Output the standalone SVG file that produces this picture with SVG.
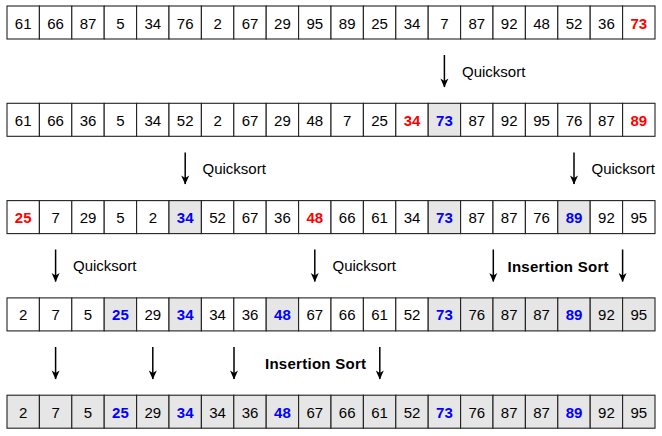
<svg xmlns="http://www.w3.org/2000/svg" width="662" height="436" viewBox="0 0 662 436">
<style>
.c{fill:#fff;stroke:#222;stroke-width:1.1}
.g{fill:#e6e6e6;stroke:#222;stroke-width:1.1}
text{font-family:"Liberation Sans",Arial,sans-serif;font-size:15px;fill:#000}
.n{text-anchor:middle}
.r{fill:#ff0000;font-weight:bold}
.b{fill:#0000ff;font-weight:bold}
.lb{font-weight:bold}
.a{stroke:#000;stroke-width:1.5;fill:none;marker-end:url(#ah)}
</style>
<defs>
<marker id="ah" markerUnits="userSpaceOnUse" viewBox="-10 -5 11 10" refX="0" refY="0" markerWidth="11" markerHeight="10" orient="auto">
<path d="M0.5,0 L-8.5,-4 L-6,0 L-8.5,4 Z" fill="#000"/>
</marker>
</defs>
<g id="row1">
<rect class="c" x="7" y="6" width="32.4" height="33"/><text class="n" x="23.2" y="28.5">61</text>
<rect class="c" x="39.4" y="6" width="32.4" height="33"/><text class="n" x="55.6" y="28.5">66</text>
<rect class="c" x="71.8" y="6" width="32.4" height="33"/><text class="n" x="88" y="28.5">87</text>
<rect class="c" x="104.2" y="6" width="32.4" height="33"/><text class="n" x="120.4" y="28.5">5</text>
<rect class="c" x="136.6" y="6" width="32.4" height="33"/><text class="n" x="152.8" y="28.5">34</text>
<rect class="c" x="169" y="6" width="32.4" height="33"/><text class="n" x="185.2" y="28.5">76</text>
<rect class="c" x="201.4" y="6" width="32.4" height="33"/><text class="n" x="217.6" y="28.5">2</text>
<rect class="c" x="233.8" y="6" width="32.4" height="33"/><text class="n" x="250" y="28.5">67</text>
<rect class="c" x="266.2" y="6" width="32.4" height="33"/><text class="n" x="282.4" y="28.5">29</text>
<rect class="c" x="298.6" y="6" width="32.4" height="33"/><text class="n" x="314.8" y="28.5">95</text>
<rect class="c" x="331" y="6" width="32.4" height="33"/><text class="n" x="347.2" y="28.5">89</text>
<rect class="c" x="363.4" y="6" width="32.4" height="33"/><text class="n" x="379.6" y="28.5">25</text>
<rect class="c" x="395.8" y="6" width="32.4" height="33"/><text class="n" x="412" y="28.5">34</text>
<rect class="c" x="428.2" y="6" width="32.4" height="33"/><text class="n" x="444.4" y="28.5">7</text>
<rect class="c" x="460.6" y="6" width="32.4" height="33"/><text class="n" x="476.8" y="28.5">87</text>
<rect class="c" x="493" y="6" width="32.4" height="33"/><text class="n" x="509.2" y="28.5">92</text>
<rect class="c" x="525.4" y="6" width="32.4" height="33"/><text class="n" x="541.6" y="28.5">48</text>
<rect class="c" x="557.8" y="6" width="32.4" height="33"/><text class="n" x="574" y="28.5">52</text>
<rect class="c" x="590.2" y="6" width="32.4" height="33"/><text class="n" x="606.4" y="28.5">36</text>
<rect class="c" x="622.6" y="6" width="32.4" height="33"/><text class="n r" x="638.8" y="28.5">73</text>
</g>
<g id="row2">
<rect class="c" x="7" y="103.3" width="32.4" height="33"/><text class="n" x="23.2" y="125.8">61</text>
<rect class="c" x="39.4" y="103.3" width="32.4" height="33"/><text class="n" x="55.6" y="125.8">66</text>
<rect class="c" x="71.8" y="103.3" width="32.4" height="33"/><text class="n" x="88" y="125.8">36</text>
<rect class="c" x="104.2" y="103.3" width="32.4" height="33"/><text class="n" x="120.4" y="125.8">5</text>
<rect class="c" x="136.6" y="103.3" width="32.4" height="33"/><text class="n" x="152.8" y="125.8">34</text>
<rect class="c" x="169" y="103.3" width="32.4" height="33"/><text class="n" x="185.2" y="125.8">52</text>
<rect class="c" x="201.4" y="103.3" width="32.4" height="33"/><text class="n" x="217.6" y="125.8">2</text>
<rect class="c" x="233.8" y="103.3" width="32.4" height="33"/><text class="n" x="250" y="125.8">67</text>
<rect class="c" x="266.2" y="103.3" width="32.4" height="33"/><text class="n" x="282.4" y="125.8">29</text>
<rect class="c" x="298.6" y="103.3" width="32.4" height="33"/><text class="n" x="314.8" y="125.8">48</text>
<rect class="c" x="331" y="103.3" width="32.4" height="33"/><text class="n" x="347.2" y="125.8">7</text>
<rect class="c" x="363.4" y="103.3" width="32.4" height="33"/><text class="n" x="379.6" y="125.8">25</text>
<rect class="c" x="395.8" y="103.3" width="32.4" height="33"/><text class="n r" x="412" y="125.8">34</text>
<rect class="g" x="428.2" y="103.3" width="32.4" height="33"/><text class="n b" x="444.4" y="125.8">73</text>
<rect class="c" x="460.6" y="103.3" width="32.4" height="33"/><text class="n" x="476.8" y="125.8">87</text>
<rect class="c" x="493" y="103.3" width="32.4" height="33"/><text class="n" x="509.2" y="125.8">92</text>
<rect class="c" x="525.4" y="103.3" width="32.4" height="33"/><text class="n" x="541.6" y="125.8">95</text>
<rect class="c" x="557.8" y="103.3" width="32.4" height="33"/><text class="n" x="574" y="125.8">76</text>
<rect class="c" x="590.2" y="103.3" width="32.4" height="33"/><text class="n" x="606.4" y="125.8">87</text>
<rect class="c" x="622.6" y="103.3" width="32.4" height="33"/><text class="n r" x="638.8" y="125.8">89</text>
</g>
<g id="row3">
<rect class="c" x="7" y="200.6" width="32.4" height="33"/><text class="n r" x="23.2" y="223.1">25</text>
<rect class="c" x="39.4" y="200.6" width="32.4" height="33"/><text class="n" x="55.6" y="223.1">7</text>
<rect class="c" x="71.8" y="200.6" width="32.4" height="33"/><text class="n" x="88" y="223.1">29</text>
<rect class="c" x="104.2" y="200.6" width="32.4" height="33"/><text class="n" x="120.4" y="223.1">5</text>
<rect class="c" x="136.6" y="200.6" width="32.4" height="33"/><text class="n" x="152.8" y="223.1">2</text>
<rect class="g" x="169" y="200.6" width="32.4" height="33"/><text class="n b" x="185.2" y="223.1">34</text>
<rect class="c" x="201.4" y="200.6" width="32.4" height="33"/><text class="n" x="217.6" y="223.1">52</text>
<rect class="c" x="233.8" y="200.6" width="32.4" height="33"/><text class="n" x="250" y="223.1">67</text>
<rect class="c" x="266.2" y="200.6" width="32.4" height="33"/><text class="n" x="282.4" y="223.1">36</text>
<rect class="c" x="298.6" y="200.6" width="32.4" height="33"/><text class="n r" x="314.8" y="223.1">48</text>
<rect class="c" x="331" y="200.6" width="32.4" height="33"/><text class="n" x="347.2" y="223.1">66</text>
<rect class="c" x="363.4" y="200.6" width="32.4" height="33"/><text class="n" x="379.6" y="223.1">61</text>
<rect class="c" x="395.8" y="200.6" width="32.4" height="33"/><text class="n" x="412" y="223.1">34</text>
<rect class="g" x="428.2" y="200.6" width="32.4" height="33"/><text class="n b" x="444.4" y="223.1">73</text>
<rect class="c" x="460.6" y="200.6" width="32.4" height="33"/><text class="n" x="476.8" y="223.1">87</text>
<rect class="c" x="493" y="200.6" width="32.4" height="33"/><text class="n" x="509.2" y="223.1">87</text>
<rect class="c" x="525.4" y="200.6" width="32.4" height="33"/><text class="n" x="541.6" y="223.1">76</text>
<rect class="g" x="557.8" y="200.6" width="32.4" height="33"/><text class="n b" x="574" y="223.1">89</text>
<rect class="c" x="590.2" y="200.6" width="32.4" height="33"/><text class="n" x="606.4" y="223.1">92</text>
<rect class="c" x="622.6" y="200.6" width="32.4" height="33"/><text class="n" x="638.8" y="223.1">95</text>
</g>
<g id="row4">
<rect class="c" x="7" y="297.9" width="32.4" height="33"/><text class="n" x="23.2" y="320.4">2</text>
<rect class="c" x="39.4" y="297.9" width="32.4" height="33"/><text class="n" x="55.6" y="320.4">7</text>
<rect class="c" x="71.8" y="297.9" width="32.4" height="33"/><text class="n" x="88" y="320.4">5</text>
<rect class="g" x="104.2" y="297.9" width="32.4" height="33"/><text class="n b" x="120.4" y="320.4">25</text>
<rect class="c" x="136.6" y="297.9" width="32.4" height="33"/><text class="n" x="152.8" y="320.4">29</text>
<rect class="g" x="169" y="297.9" width="32.4" height="33"/><text class="n b" x="185.2" y="320.4">34</text>
<rect class="c" x="201.4" y="297.9" width="32.4" height="33"/><text class="n" x="217.6" y="320.4">34</text>
<rect class="c" x="233.8" y="297.9" width="32.4" height="33"/><text class="n" x="250" y="320.4">36</text>
<rect class="g" x="266.2" y="297.9" width="32.4" height="33"/><text class="n b" x="282.4" y="320.4">48</text>
<rect class="c" x="298.6" y="297.9" width="32.4" height="33"/><text class="n" x="314.8" y="320.4">67</text>
<rect class="c" x="331" y="297.9" width="32.4" height="33"/><text class="n" x="347.2" y="320.4">66</text>
<rect class="c" x="363.4" y="297.9" width="32.4" height="33"/><text class="n" x="379.6" y="320.4">61</text>
<rect class="c" x="395.8" y="297.9" width="32.4" height="33"/><text class="n" x="412" y="320.4">52</text>
<rect class="g" x="428.2" y="297.9" width="32.4" height="33"/><text class="n b" x="444.4" y="320.4">73</text>
<rect class="g" x="460.6" y="297.9" width="32.4" height="33"/><text class="n" x="476.8" y="320.4">76</text>
<rect class="g" x="493" y="297.9" width="32.4" height="33"/><text class="n" x="509.2" y="320.4">87</text>
<rect class="g" x="525.4" y="297.9" width="32.4" height="33"/><text class="n" x="541.6" y="320.4">87</text>
<rect class="g" x="557.8" y="297.9" width="32.4" height="33"/><text class="n b" x="574" y="320.4">89</text>
<rect class="g" x="590.2" y="297.9" width="32.4" height="33"/><text class="n" x="606.4" y="320.4">92</text>
<rect class="g" x="622.6" y="297.9" width="32.4" height="33"/><text class="n" x="638.8" y="320.4">95</text>
</g>
<g id="row5">
<rect class="g" x="7" y="395.2" width="32.4" height="33"/><text class="n" x="23.2" y="417.7">2</text>
<rect class="g" x="39.4" y="395.2" width="32.4" height="33"/><text class="n" x="55.6" y="417.7">7</text>
<rect class="g" x="71.8" y="395.2" width="32.4" height="33"/><text class="n" x="88" y="417.7">5</text>
<rect class="g" x="104.2" y="395.2" width="32.4" height="33"/><text class="n b" x="120.4" y="417.7">25</text>
<rect class="g" x="136.6" y="395.2" width="32.4" height="33"/><text class="n" x="152.8" y="417.7">29</text>
<rect class="g" x="169" y="395.2" width="32.4" height="33"/><text class="n b" x="185.2" y="417.7">34</text>
<rect class="g" x="201.4" y="395.2" width="32.4" height="33"/><text class="n" x="217.6" y="417.7">34</text>
<rect class="g" x="233.8" y="395.2" width="32.4" height="33"/><text class="n" x="250" y="417.7">36</text>
<rect class="g" x="266.2" y="395.2" width="32.4" height="33"/><text class="n b" x="282.4" y="417.7">48</text>
<rect class="g" x="298.6" y="395.2" width="32.4" height="33"/><text class="n" x="314.8" y="417.7">67</text>
<rect class="g" x="331" y="395.2" width="32.4" height="33"/><text class="n" x="347.2" y="417.7">66</text>
<rect class="g" x="363.4" y="395.2" width="32.4" height="33"/><text class="n" x="379.6" y="417.7">61</text>
<rect class="g" x="395.8" y="395.2" width="32.4" height="33"/><text class="n" x="412" y="417.7">52</text>
<rect class="g" x="428.2" y="395.2" width="32.4" height="33"/><text class="n b" x="444.4" y="417.7">73</text>
<rect class="g" x="460.6" y="395.2" width="32.4" height="33"/><text class="n" x="476.8" y="417.7">76</text>
<rect class="g" x="493" y="395.2" width="32.4" height="33"/><text class="n" x="509.2" y="417.7">87</text>
<rect class="g" x="525.4" y="395.2" width="32.4" height="33"/><text class="n" x="541.6" y="417.7">87</text>
<rect class="g" x="557.8" y="395.2" width="32.4" height="33"/><text class="n b" x="574" y="417.7">89</text>
<rect class="g" x="590.2" y="395.2" width="32.4" height="33"/><text class="n" x="606.4" y="417.7">92</text>
<rect class="g" x="622.6" y="395.2" width="32.4" height="33"/><text class="n" x="638.8" y="417.7">95</text>
</g>
<g id="connectors">
<line class="a" x1="444.4" y1="55" x2="444.4" y2="87"/>
<line class="a" x1="185.2" y1="152.5" x2="185.2" y2="184"/>
<line class="a" x1="574" y1="152.5" x2="574" y2="184"/>
<line class="a" x1="55.6" y1="249.5" x2="55.6" y2="281.5"/>
<line class="a" x1="314.8" y1="249.5" x2="314.8" y2="281.5"/>
<line class="a" x1="493.3" y1="249.5" x2="493.3" y2="281.5"/>
<line class="a" x1="622.6" y1="249.5" x2="622.6" y2="281.5"/>
<line class="a" x1="55.6" y1="347" x2="55.6" y2="379"/>
<line class="a" x1="152.8" y1="347" x2="152.8" y2="379"/>
<line class="a" x1="234" y1="347" x2="234" y2="379"/>
<line class="a" x1="379.8" y1="347" x2="379.8" y2="379"/>
</g>
<g id="labels">
<text x="462" y="76.5">Quicksort</text>
<text x="202.5" y="173.5">Quicksort</text>
<text x="591.5" y="173.5">Quicksort</text>
<text x="73" y="271">Quicksort</text>
<text x="332.5" y="271">Quicksort</text>
<text class="lb" x="507.5" y="271.5" textLength="101">Insertion Sort</text>
<text class="lb" x="265" y="368.5" textLength="101">Insertion Sort</text>
</g>
</svg>
